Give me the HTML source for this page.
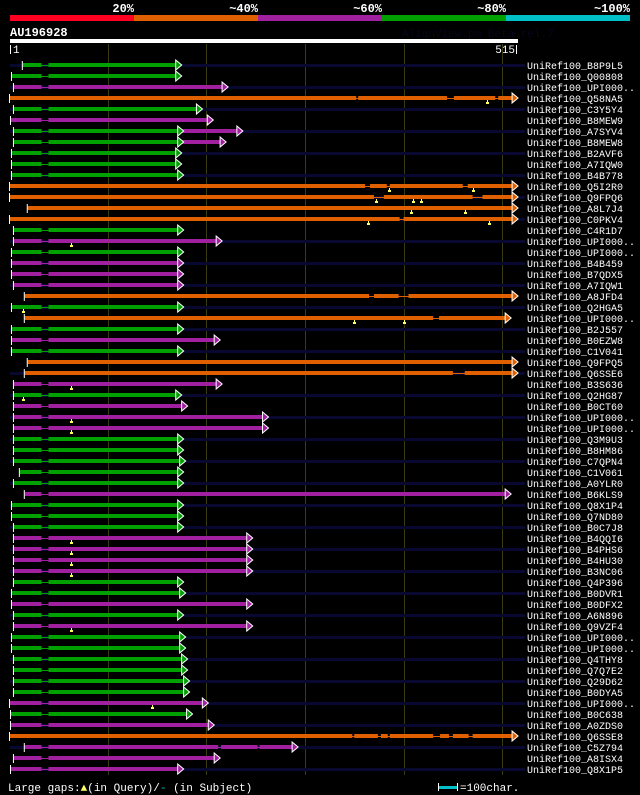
<!DOCTYPE html>
<html><head><meta charset="utf-8"><style>
html,body{margin:0;padding:0;background:#000;width:640px;height:795px;overflow:hidden}
svg{display:block}
text{font-family:"Liberation Mono","DejaVu Sans Mono",monospace}
</style></head><body>
<svg id="chart" width="640" height="795" viewBox="0 0 640 795">
<g>
<rect x="10" y="15" width="124" height="6" fill="#ff0022"/>
<rect x="134" y="15" width="124" height="6" fill="#e06000"/>
<rect x="258" y="15" width="124" height="6" fill="#a020a0"/>
<rect x="382" y="15" width="124" height="6" fill="#00a000"/>
<rect x="506" y="15" width="124" height="6" fill="#00c0c8"/>
<g font-size="12" font-weight="bold" fill="#fff" text-anchor="end">
<text x="134" y="12">20%</text>
<text x="258" y="12">~40%</text>
<text x="382" y="12">~60%</text>
<text x="506" y="12">~80%</text>
<text x="630" y="12">~100%</text>
</g></g>
<text x="402" y="37" font-size="11" fill="#06061e">AlignView.pm Beta rel.7</text>
<text x="10" y="36" font-size="12" font-weight="bold" fill="#fff">AU196928</text>
<rect x="10" y="39" width="508" height="4" fill="#fff"/>
<rect x="10" y="45" width="1" height="9" fill="#fff"/>
<text x="13" y="53" font-size="11" fill="#fff">1</text>
<text x="515" y="53" font-size="11" fill="#fff" text-anchor="end">515</text>
<rect x="516" y="45" width="1" height="9" fill="#fff"/>
<g id="grid"></g><g id="rows"></g>
<text x="8" y="791" font-size="11" fill="#fff">Large gaps:<tspan fill="#ffff66">▲</tspan>(in Query)/<tspan fill="#00c0c8">-</tspan> (in Subject)</text>
<rect x="439" y="786" width="18" height="3" fill="#00c0c8"/>
<rect x="438" y="783" width="1" height="8" fill="#fff"/>
<rect x="457" y="783" width="1" height="8" fill="#fff"/>
<text x="460" y="791" font-size="11" fill="#fff">=100char.</text>
</svg>
<script>
const queryLength = 515;
const gridTicks = [100, 200, 300, 400, 500];
const hitNames = ["B8P9L5","Q00808","UPI000..","Q58NA5","C3Y5Y4","B8MEW9","A7SYV4","B8MEW8","B2AVF6","A7IQW0","B4B778","Q5I2R0","Q9FPQ6","A8L7J4","C0PKV4","C4R1D7","UPI000..","UPI000..","B4B459","B7QDX5","A7IQW1","A8JFD4","Q2HGA5","UPI000..","B2J557","B0EZW8","C1V041","Q9FPQ5","Q6SSE6","B3S636","Q2HG87","B0CT60","UPI000..","UPI000..","Q3M9U3","B8HM86","C7QPN4","C1V061","A0YLR0","B6KLS9","Q8X1P4","Q7ND80","B0C7J8","B4QQI6","B4PHS6","B4HU30","B3NC06","Q4P396","B0DVR1","B0DFX2","A6N896","Q9VZF4","UPI000..","UPI000..","Q4THY8","Q7Q7E2","Q29D62","B0DYA5","UPI000..","B0C638","A0ZDS0","Q6SSE8","C5Z794","A8ISX4","Q8X1P5"];
const hitStart = [14,3,5,1,5,2,5,5,3,3,3,1,1,19,1,5,5,3,3,3,5,16,3,16,3,3,3,19,16,5,5,5,5,5,5,5,5,11,5,16,3,3,5,5,5,5,5,5,3,3,5,5,3,3,5,5,5,5,1,2,2,1,16,5,2];
const hitEnd = [169,169,216,510,190,201,171,171,169,169,171,510,510,510,510,171,210,171,171,171,171,510,171,503,171,208,171,510,510,210,169,175,257,257,171,171,173,171,171,503,171,171,171,241,241,241,241,171,173,241,171,241,173,173,175,175,177,177,196,180,202,510,287,208,171];
const hitColor = ["g","g","m","o","g","m","g","g","g","g","g","o","o","o","o","g","m","g","m","m","m","o","g","o","g","m","g","o","o","m","g","m","m","m","g","g","g","g","g","m","g","g","g","m","m","m","m","g","g","m","g","m","g","g","g","g","g","g","m","g","m","o","m","m","m"];
const extEnd = {6:231, 7:214};
const subjGaps = {3:[[352,354],[444,451],[493,496]],11:[[361,366],[383,386],[460,465]],12:[[370,380],[470,480]],14:[[396,400]],21:[[365,370],[395,405]],23:[[430,436]],28:[[450,462]],61:[[348,350],[374,377],[384,386],[430,437],[446,450],[466,470]],62:[[212,215],[252,254]]};
const queryGaps = {3:[485],11:[385,470],12:[372,410,418],13:[408,462],14:[364,487],16:[63],22:[14],23:[350,400],29:[63],30:[14],32:[63],33:[63],43:[63],44:[63],45:[63],46:[63],51:[63],58:[145]};
const colors = {g:"#00a000", m:"#a020a0", o:"#e06000"};
const NS = "http://www.w3.org/2000/svg";
function xs(p){ return 10 + (p-1)*507/514; }
function rowY(i){ return 65 + i*11; }
function mk(tag, attrs, parent){ const e=document.createElementNS(NS,tag); for(const k in attrs) e.setAttribute(k,attrs[k]); parent.appendChild(e); return e; }
const grid = document.getElementById('grid');
gridTicks.forEach(t=>{
  const l = mk('rect',{x:Math.round(xs(t)),y:44,width:1,height:731,fill:'#3a3a10'},grid);
  
  
});
const rows = document.getElementById('rows');
hitNames.forEach((name,i)=>{
  const y = rowY(i);
  const g = mk('g',{},rows);
  
  
  if(i%2===0){
    const bg = mk('rect',{x:10,y:y-1,width:515,height:3,fill:'#080830'},g);
    
    
  }
  const c = colors[hitColor[i]];
  const s = xs(hitStart[i]), e = xs(hitEnd[i]);
  let segs = [[hitStart[i], hitEnd[i]]];
  if(hitColor[i]!=='o'){ segs = [[hitStart[i],33],[40,hitEnd[i]]]; }
  (subjGaps[i]||[]).forEach(gp=>{
    const ns=[]; segs.forEach(sg=>{ if(gp[0]>sg[0]&&gp[1]<sg[1]){ns.push([sg[0],gp[0]]);ns.push([gp[1],sg[1]]);} else ns.push(sg); }); segs=ns;
  });
  const conn = mk('rect',{x:s,y:y,width:e-s,height:1,fill:c},g);
  
  
  segs.forEach(sg=>{
    const b = mk('rect',{x:xs(sg[0]),y:y-2,width:Math.max(1,xs(sg[1])-xs(sg[0])),height:4,fill:c},g);
    
    
  });
  let tipX = e, tipC = c;
  if(extEnd[i]){
    const ex = xs(extEnd[i]);
    const b2 = mk('rect',{x:e,y:y-2,width:ex-e,height:4,fill:colors.m},g);
    
    
    const a0 = mk('polygon',{points:`${e},${y-5} ${e+6},${y} ${e},${y+5}`,fill:c,stroke:'#fff','stroke-width':1},g);
    
    
    tipX = ex; tipC = colors.m;
  }
  const tk = mk('rect',{x:s-1,y:y-4,width:1,height:9,fill:'#fff'},g);
  
  
  const ar = mk('polygon',{points:`${tipX},${y-5} ${tipX+6},${y} ${tipX},${y+5}`,fill:tipC,stroke:'#fff','stroke-width':1},g);
  
  
  (queryGaps[i]||[]).forEach(q=>{
    const qx = Math.round(xs(q));
    const m1 = mk('rect',{x:qx,y:y+2,width:1,height:2,fill:'#ffff66'},g);
    
    
    const m2 = mk('rect',{x:qx-1,y:y+4,width:3,height:2,fill:'#ffff66'},g);
    
    
  });
  const t = mk('text',{x:527,y:y+4,'font-size':10,fill:'#fff'},g);
  t.textContent = 'UniRef100_' + name;
  
  
});
</script>
</body></html>
